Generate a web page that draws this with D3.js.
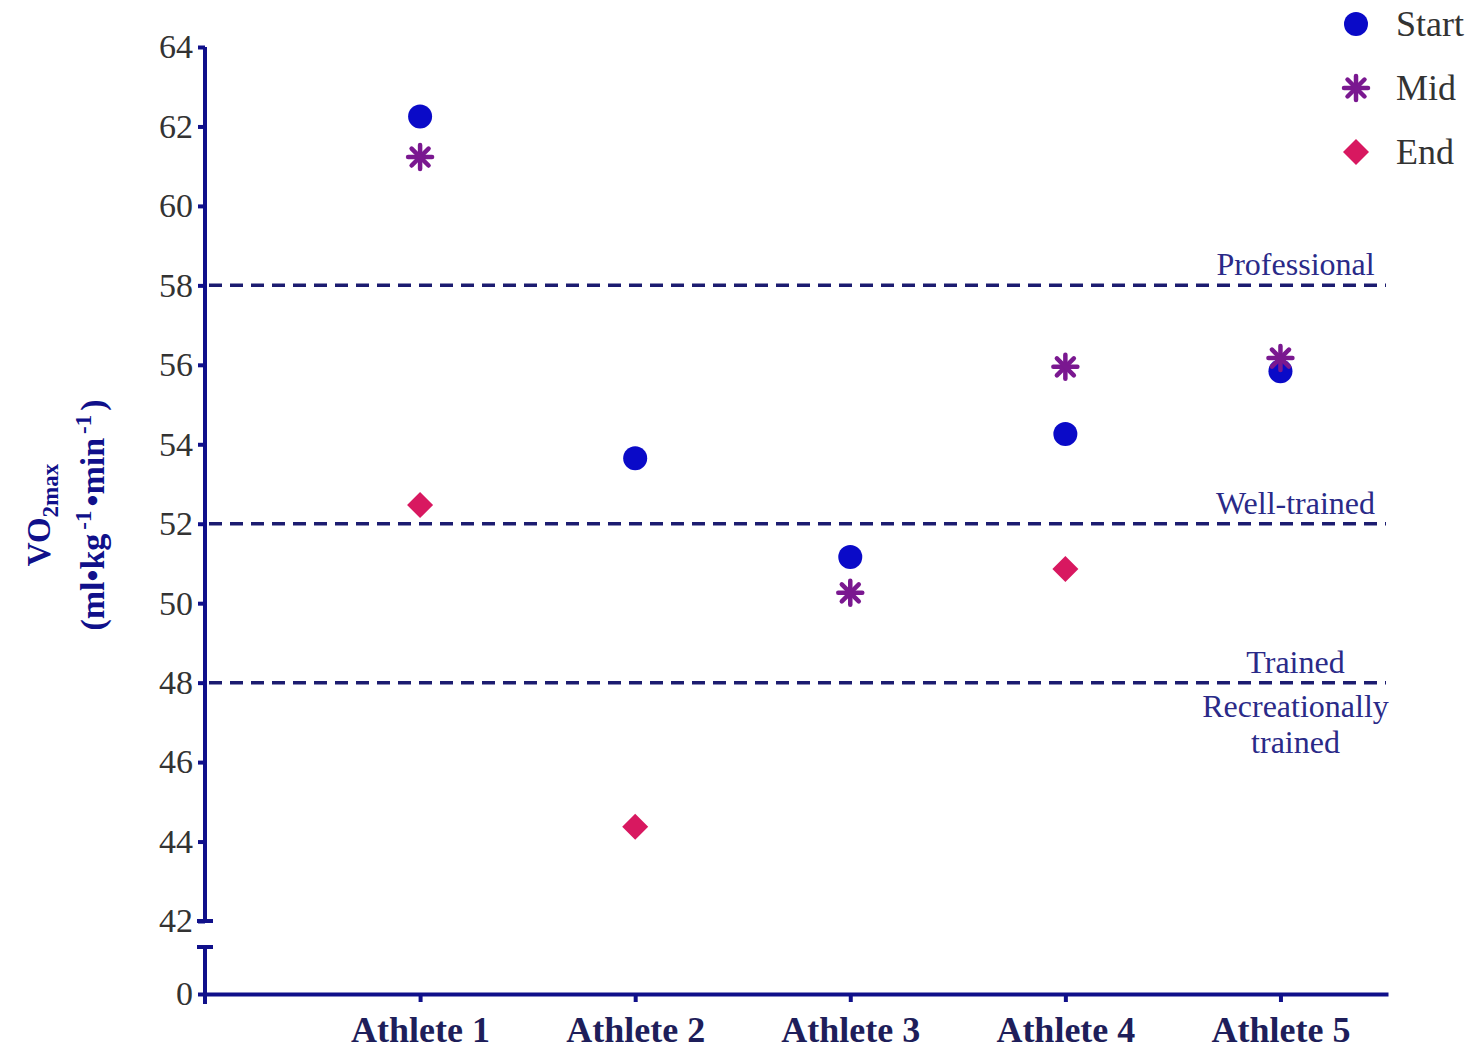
<!DOCTYPE html>
<html>
<head>
<meta charset="utf-8">
<script src="https://cdn.jsdelivr.net/npm/d3@7"></script>
<style>
  body { margin: 0; background: #fff; }
  svg text { font-family: "Liberation Serif", "Times New Roman", Times, serif !important; }
  .axis path, .axis line { stroke: #10108a; stroke-width: 4; }
  .axis text { fill: #333; font-size: 34px; }
</style>
</head>
<body>
<svg id="chart" width="1473" height="1054"></svg>
<script>
var athletes = ["Athlete 1", "Athlete 2", "Athlete 3", "Athlete 4", "Athlete 5"];
var startVals = [62.25, 53.65, 51.16, 54.26, 55.84];
var midVals = [61.23, null, 50.26, 55.95, 56.17];
var endVals = [52.47, 44.37, null, 50.86, null];
var yTicks = [42, 44, 46, 48, 50, 52, 54, 56, 58, 60, 62, 64];
var levels = [58, 52, 48];
var levelLabels = [["Professional", 58, "above"], ["Well-trained", 52, "above"], ["Trained", 48, "above"], ["Recreationally", 48, "below1"], ["trained", 48, "below2"]];
var seriesNames = ["Start", "Mid", "End"];

var colors = {Start: "#0a0ac8", Mid: "#7a1890", End: "#d81860"};
var navy = "#10108a";
var serif = "'Liberation Serif', 'Times New Roman', Times, serif";

var svg = d3.select("#chart");

var x = d3.scaleLinear().domain([0, 5.5]).range([205, 1388]);
var y = d3.scaleLinear().domain([42, 64]).range([921, 47]);
var y0 = d3.scaleLinear().domain([0, 1]).range([994, 947]);

// threshold lines
svg.selectAll("line.level")
  .data(levels)
  .enter().append("line")
  .attr("class", "level")
  .attr("x1", x(0) + 4).attr("x2", x(5.5) - 2)
  .attr("y1", function(d){ return y(d); })
  .attr("y2", function(d){ return y(d); })
  .style("stroke", "#1c1c70")
  .style("stroke-width", 3.5)
  .style("stroke-dasharray", "13,8");

svg.selectAll("text.lvl")
  .data(levelLabels)
  .enter().append("text")
  .attr("class", "lvl")
  .attr("x", x(5.07))
  .attr("y", function(d){
    var base = y(d[1]);
    if (d[2] == "above") return base - 10;
    if (d[2] == "below1") return base + 34;
    return base + 70;
  })
  .attr("text-anchor", "middle")
  .style("font-size", "32px")
  .style("fill", "#2a2a88")
  .text(function(d){ return d[0]; });

// y axis upper segment
var yAxis = d3.axisLeft(y).tickValues(yTicks).tickSize(7).tickPadding(5).tickSizeOuter(0);
var ya = svg.append("g").attr("class", "axis").attr("font-family", serif)
  .attr("transform", "translate(" + x(0) + ",0)").call(yAxis);
ya.select(".domain").attr("d", "M0," + y(64) + "V" + y(42));
ya.append("line").attr("x1", -8).attr("x2", 8).attr("y1", y(42)).attr("y2", y(42));

// y axis lower segment (break)
var yAxis0 = d3.axisLeft(y0).tickValues([0]).tickFormat(d3.format("d")).tickSize(7).tickPadding(5).tickSizeOuter(0);
var yb = svg.append("g").attr("class", "axis").attr("font-family", serif)
  .attr("transform", "translate(" + x(0) + ",0)").call(yAxis0);
yb.select(".domain").attr("d", "M0," + y0(1) + "V" + (y0(0) + 10));
yb.append("line").attr("x1", -8).attr("x2", 8).attr("y1", y0(1)).attr("y2", y0(1));

// x axis
var xAxis = d3.axisBottom(x).tickValues([1, 2, 3, 4, 5]).tickSize(8).tickPadding(14).tickSizeOuter(0)
  .tickFormat(function(d){ return athletes[d - 1]; });
var xa = svg.append("g").attr("class", "axis").attr("font-family", serif)
  .attr("transform", "translate(0," + y0(0) + ")").call(xAxis);
xa.selectAll("text").style("font-weight", "bold").style("fill", "#1e1e5a").style("font-size", "36px");

// y title
var title = svg.append("g").attr("transform", "translate(50,515) rotate(-90)");
var t1 = title.append("text").attr("text-anchor", "middle").style("font-weight", "bold")
  .style("font-size", "33px").style("fill", navy);
t1.append("tspan").text("VO");
t1.append("tspan").attr("dy", 8).style("font-size", "23px").text("2max");
var t2 = title.append("text").attr("y", 54).attr("text-anchor", "middle").style("font-weight", "bold")
  .style("font-size", "34px").style("fill", navy);
t2.append("tspan").text("(ml\u2022kg");
t2.append("tspan").attr("dy", -13).attr("dx", 4).style("font-size", "23px").text("-1");
t2.append("tspan").attr("dy", 13).attr("dx", 4).text("\u2022min");
t2.append("tspan").attr("dy", -13).attr("dx", 4).style("font-size", "23px").text("-1");
t2.append("tspan").attr("dy", 13).attr("dx", 4).text(")");

// markers
var circleSym = d3.symbol().type(d3.symbolCircle).size(Math.PI * 12 * 12);
var diamondPath = "M0,-13L13,0L0,13L-13,0Z";
function star(g, color) {
  for (var a = 0; a < 4; a++) {
    g.append("line")
      .attr("x1", 0).attr("y1", -12).attr("x2", 0).attr("y2", 12)
      .attr("transform", "rotate(" + (a * 45) + ")")
      .style("stroke", color).style("stroke-width", 4.5).style("stroke-linecap", "round");
  }
}

function drawMarker(g, name) {
  if (name == "Start") g.append("path").attr("d", circleSym).style("fill", colors.Start);
  else if (name == "Mid") star(g, colors.Mid);
  else g.append("path").attr("d", diamondPath).style("fill", colors.End);
}

var seriesVals = {Start: startVals, Mid: midVals, End: endVals};
["End", "Start", "Mid"].forEach(function(name){
  seriesVals[name].forEach(function(v, i){
    if (v == null) return;
    var g = svg.append("g").attr("transform", "translate(" + x(i + 1) + "," + y(v) + ")");
    drawMarker(g, name);
  });
});

// legend
var legend = svg.selectAll("g.leg")
  .data(seriesNames)
  .enter().append("g")
  .attr("class", "leg")
  .attr("transform", function(d, i){ return "translate(1356," + (24 + i * 64) + ")"; });
legend.each(function(d){ drawMarker(d3.select(this), d); });
legend.append("text")
  .attr("x", 40).attr("y", 12)
  .style("font-size", "36px").style("fill", "#333")
  .text(function(d){ return d; });
</script>
</body>
</html>
